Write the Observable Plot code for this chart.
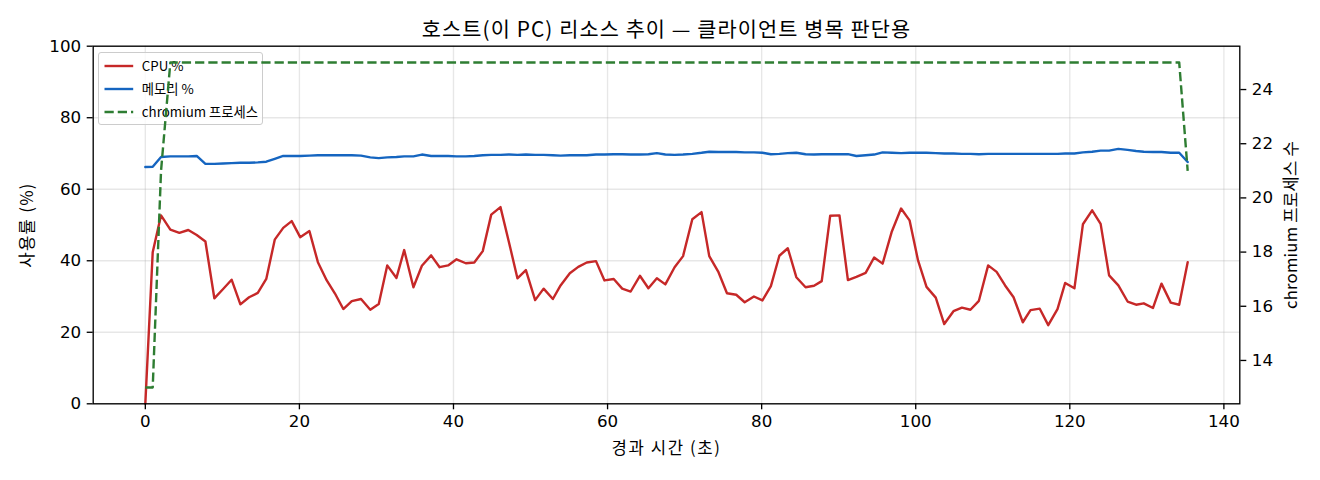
<!DOCTYPE html>
<html>
<head>
<meta charset="utf-8">
<script src="https://cdn.jsdelivr.net/npm/d3@7"></script>
<script src="https://cdn.jsdelivr.net/npm/@observablehq/plot@0.6"></script>
<style>
  html, body { margin: 0; padding: 0; background: #fff; }
  #wrap { position: relative; width: 1320px; height: 480px; font-family: "Noto Sans CJK KR", "Noto Sans", sans-serif; color: #000; }
  #wrap > svg { position: absolute; left: 0; top: 0; }
  #legend { position: absolute; left: 98.3px; top: 51.7px; width: 165px; height: 73.3px; box-sizing: border-box;
            border: 1.33px solid #cccccc; border-radius: 3px; background: rgba(255,255,255,0.8); }
  #legend .item { position: absolute; left: 0; height: 20px; width: 100%; }
  #legend svg { position: absolute; left: 5px; top: 0; }
  #legend span { position: absolute; left: 42.5px; top: 0; line-height: 20px; font-size: 13.3px; white-space: nowrap; }
</style>
</head>
<body>
<div id="wrap"></div>
<script>
// ---- data ----
const titleText = "호스트(이 PC) 리소스 추이 — 클라이언트 병목 판단용";
const xLabel = "경과 시간 (초)";
const yLabel = "사용률 (%)";
const y2Label = "chromium 프로세스 수";
const seriesNames = ["CPU %", "메모리 %", "chromium 프로세스"];
const seriesColors = ["#c62828", "#1565c0", "#2e7d32"];

const xTicks = [0, 20, 40, 60, 80, 100, 120, 140];
const yTicks = [0, 20, 40, 60, 80, 100];
const y2Ticks = [14, 16, 18, 20, 22, 24];

const times = [
  0, 0.96, 2.04, 3.25, 4.42, 5.58, 6.67, 7.8, 8.96, 10.1,
  11.2, 12.34, 13.47, 14.6, 15.7, 16.8, 17.9, 19.0, 20.1, 21.3,
  22.4, 23.55, 24.6, 25.7, 26.8, 28.0, 29.2, 30.3, 31.4, 32.6,
  33.6, 34.8, 35.9, 37.1, 38.2, 39.3, 40.4, 41.6, 42.7, 43.8,
  44.9, 46.1, 47.2, 48.3, 49.4, 50.6, 51.7, 52.9, 53.9, 55.1,
  56.2, 57.3, 58.5, 59.6, 60.8, 61.9, 63.0, 64.2, 65.3, 66.4,
  67.5, 68.7, 69.8, 71.0, 72.2, 73.2, 74.4, 75.5, 76.7, 77.8,
  79.0, 80.1, 81.2, 82.3, 83.4, 84.5, 85.7, 86.8, 87.8, 88.9,
  90.1, 91.2, 92.3, 93.5, 94.6, 95.7, 96.9, 98.1, 99.2, 100.3,
  101.4, 102.6, 103.7, 104.9, 106.0, 107.1, 108.2, 109.4, 110.5, 111.6,
  112.7, 113.9, 114.9, 116.1, 117.2, 118.4, 119.4, 120.6, 121.7, 122.9,
  124.0, 125.1, 126.3, 127.5, 128.6, 129.6, 130.8, 131.9, 133.1, 134.2,
  135.3
];

const cpuPct = [
  0, 42.4, 52.7, 48.7, 47.8, 48.6, 47.2, 45.4, 29.5, 32.1,
  34.7, 27.8, 29.8, 31.0, 34.9, 45.9, 49.2, 51.1, 46.6, 48.3,
  39.6, 34.5, 30.9, 26.5, 28.7, 29.3, 26.3, 27.9, 38.7, 35.2,
  43.0, 32.6, 38.6, 41.5, 38.2, 38.7, 40.4, 39.3, 39.5, 42.7,
  52.9, 55.0, 45.2, 35.1, 37.4, 29.0, 32.2, 29.3, 33.1, 36.5,
  38.3, 39.5, 39.9, 34.5, 34.9, 32.2, 31.4, 35.8, 32.3, 35.1,
  33.4, 38.2, 41.3, 51.6, 53.6, 41.3, 36.8, 30.9, 30.5, 28.4,
  30.0, 28.9, 32.9, 41.4, 43.5, 35.4, 32.6, 33.0, 34.3, 52.6,
  52.7, 34.6, 35.5, 36.6, 40.9, 39.2, 48.2, 54.6, 51.3, 40.1,
  32.7, 29.7, 22.3, 25.9, 26.9, 26.3, 28.8, 38.7, 36.9, 33.1,
  29.8, 22.8, 26.2, 26.6, 22.0, 26.5, 33.8, 32.3, 50.2, 54.1,
  50.3, 35.9, 33.1, 28.6, 27.7, 28.1, 26.8, 33.6, 28.3, 27.7,
  39.6
];

const memPct = [
  66.2, 66.3, 69.0, 69.2, 69.2, 69.2, 69.3, 67.1, 67.1, 67.2,
  67.3, 67.4, 67.4, 67.5, 67.7, 68.5, 69.3, 69.3, 69.3, 69.4,
  69.5, 69.5, 69.5, 69.5, 69.5, 69.4, 68.9, 68.7, 68.9, 69.0,
  69.2, 69.2, 69.7, 69.3, 69.3, 69.3, 69.2, 69.2, 69.3, 69.5,
  69.6, 69.6, 69.7, 69.6, 69.7, 69.6, 69.6, 69.5, 69.4, 69.5,
  69.5, 69.5, 69.7, 69.7, 69.8, 69.8, 69.7, 69.7, 69.8, 70.1,
  69.7, 69.6, 69.7, 69.9, 70.2, 70.5, 70.4, 70.4, 70.4, 70.3,
  70.3, 70.2, 69.8, 69.9, 70.1, 70.2, 69.8, 69.7, 69.8, 69.8,
  69.8, 69.8, 69.3, 69.5, 69.7, 70.3, 70.2, 70.1, 70.2, 70.2,
  70.2, 70.1, 70.0, 70.0, 69.9, 69.9, 69.8, 69.9, 69.9, 69.9,
  69.9, 69.9, 69.9, 69.9, 69.9, 69.9, 70.0, 70.0, 70.3, 70.5,
  70.8, 70.8, 71.3, 71.0, 70.7, 70.5, 70.4, 70.4, 70.2, 70.2,
  67.6
];

const chromiumProcs = [
  13, 13, 21, 25, 25, 25, 25, 25, 25, 25,
  25, 25, 25, 25, 25, 25, 25, 25, 25, 25,
  25, 25, 25, 25, 25, 25, 25, 25, 25, 25,
  25, 25, 25, 25, 25, 25, 25, 25, 25, 25,
  25, 25, 25, 25, 25, 25, 25, 25, 25, 25,
  25, 25, 25, 25, 25, 25, 25, 25, 25, 25,
  25, 25, 25, 25, 25, 25, 25, 25, 25, 25,
  25, 25, 25, 25, 25, 25, 25, 25, 25, 25,
  25, 25, 25, 25, 25, 25, 25, 25, 25, 25,
  25, 25, 25, 25, 25, 25, 25, 25, 25, 25,
  25, 25, 25, 25, 25, 25, 25, 25, 25, 25,
  25, 25, 25, 25, 25, 25, 25, 25, 25, 25,
  21
];

// ---- build ----
const rows = times.map((t, i) => ({t, cpu: cpuPct[i], mem: memPct[i], proc: chromiumProcs[i]}));

function padded(ext) { const m = (ext[1] - ext[0]) * 0.05; return [ext[0] - m, ext[1] + m]; }
const xDomain = padded(d3.extent(times));
const y2Domain = padded(d3.extent(chromiumProcs));

const W = 1320, H = 480;
const M = {left: 92.7, right: 80.7, top: 45.7, bottom: 76.7};
const TEXT_FONT = "Noto Sans CJK KR";
const TICK_FONT = "DejaVu Sans";
const lw = 2.4;

const base = Plot.plot({
  width: W, height: H,
  marginLeft: M.left, marginRight: M.right, marginTop: M.top, marginBottom: M.bottom,
  x: {domain: xDomain},
  y: {domain: [0, 100]},
  style: {background: "transparent", color: "#000", fontFamily: TEXT_FONT, overflow: "visible"},
  marks: [
    Plot.gridX(xTicks, {stroke: "#b0b0b0", strokeOpacity: 0.3, strokeWidth: 1.33}),
    Plot.gridY(yTicks, {stroke: "#b0b0b0", strokeOpacity: 0.3, strokeWidth: 1.33}),
    Plot.line(rows, {x: "t", y: "cpu", stroke: seriesColors[0], strokeWidth: lw}),
    Plot.line(rows, {x: "t", y: "mem", stroke: seriesColors[1], strokeWidth: lw}),
    Plot.frame({stroke: "#000", strokeWidth: 1.33}),
    Plot.axisX({ticks: xTicks, tickSize: 6, tickPadding: 5, strokeWidth: 1.33, fontSize: 16.7, fontFamily: TICK_FONT, label: null, tickFormat: d => String(d)}),
    Plot.axisY({ticks: yTicks, tickSize: 6, tickPadding: 6, strokeWidth: 1.33, fontSize: 16.7, fontFamily: TICK_FONT, label: null, tickFormat: d => String(d)}),
    Plot.text([xLabel], {text: d => d, frameAnchor: "bottom", textAnchor: "middle", dy: 50, fontSize: 16.7, fontFamily: TEXT_FONT, fill: "#000"}),
    Plot.text([yLabel], {text: d => d, frameAnchor: "left", textAnchor: "middle", rotate: -90, dx: -66, fontSize: 16.7, fontFamily: TEXT_FONT, fill: "#000"}),
    Plot.text([titleText], {text: d => d, frameAnchor: "top", textAnchor: "middle", dy: -23.5, fontSize: 20.8, fontFamily: TEXT_FONT, fill: "#000"})
  ]
});

const overlay = Plot.plot({
  width: W, height: H,
  marginLeft: M.left, marginRight: M.right, marginTop: M.top, marginBottom: M.bottom,
  x: {domain: xDomain, axis: null},
  y: {domain: y2Domain},
  style: {background: "transparent", color: "#000", fontFamily: TEXT_FONT, overflow: "visible"},
  marks: [
    Plot.axisY({anchor: "right", ticks: y2Ticks, tickSize: 6, tickPadding: 6, strokeWidth: 1.33, fontSize: 16.7, fontFamily: TICK_FONT, label: null, tickFormat: d => String(d)}),
    Plot.text([y2Label], {text: d => d, frameAnchor: "right", textAnchor: "middle", rotate: -90, dx: 52, fontSize: 16.7, fontFamily: TEXT_FONT, fill: "#000"}),
    Plot.line(rows, {x: "t", y: "proc", stroke: seriesColors[2], strokeWidth: lw, strokeDasharray: "9.25,4", strokeLinecap: "butt"})
  ]
});

// slightly wider letter spacing for the Hangul labels (reference font is wider)
const spacing = new Map([[titleText, 1.1], [xLabel, 1.6], [yLabel, 1.3], [y2Label, 0.2]]);
for (const svg of [base, overlay]) {
  svg.querySelectorAll("text").forEach(el => {
    const s = spacing.get(el.textContent);
    if (s) el.setAttribute("letter-spacing", s);
  });
}

// legend
const legend = document.createElement("div");
legend.id = "legend";
const rowTops = [3.3, 26.6, 49.3];
seriesNames.forEach((name, i) => {
  const item = document.createElement("div");
  item.className = "item";
  item.style.top = rowTops[i] + "px";
  const dash = i === 2 ? ' stroke-dasharray="9.25,4"' : '';
  item.innerHTML = `<svg width="30" height="20"><line x1="0.5" x2="29.2" y1="10" y2="10" stroke="${seriesColors[i]}" stroke-width="${lw}"${dash}/></svg><span>${name}</span>`;
  legend.appendChild(item);
});

const wrap = document.getElementById("wrap");
wrap.appendChild(base);
wrap.appendChild(legend);
wrap.appendChild(overlay);
</script>
</body>
</html>
